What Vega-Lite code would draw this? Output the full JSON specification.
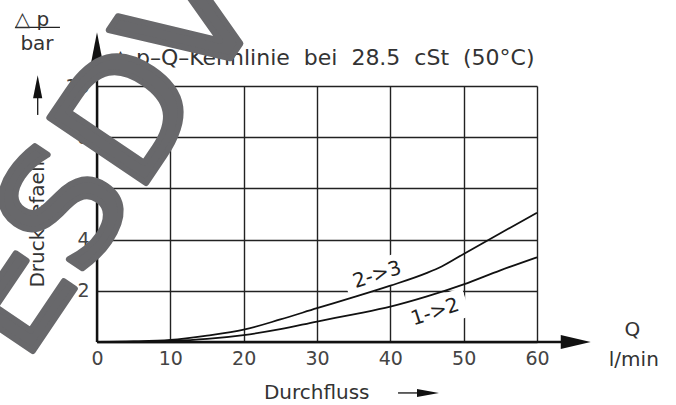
{
  "$schema": "https://vega.github.io/schema/vega-lite/v6.json",
  "width": 440,
  "height": 256,
  "autosize": {"type": "none"},
  "padding": {"left": 97, "top": 86, "right": 139, "bottom": 63},
  "background": "white",
  "config": {"view": {"stroke": null}, "font": "DejaVu Sans"},
  "datasets": {
    "boxes": [{"x": 38.2, "p": 2.62}, {"x": 46.1, "p": 1.17}],
    "curves": [
      {"series": "2->3", "x": 0, "p": 0}, {"series": "2->3", "x": 5, "p": 0.02}, {"series": "2->3", "x": 10, "p": 0.08},
      {"series": "2->3", "x": 15, "p": 0.25}, {"series": "2->3", "x": 20, "p": 0.48}, {"series": "2->3", "x": 25, "p": 0.88},
      {"series": "2->3", "x": 30, "p": 1.32}, {"series": "2->3", "x": 35, "p": 1.75}, {"series": "2->3", "x": 40, "p": 2.2},
      {"series": "2->3", "x": 45, "p": 2.7}, {"series": "2->3", "x": 47, "p": 2.95}, {"series": "2->3", "x": 50, "p": 3.44},
      {"series": "2->3", "x": 55, "p": 4.25}, {"series": "2->3", "x": 60, "p": 5.05},
      {"series": "1->2", "x": 0, "p": 0}, {"series": "1->2", "x": 5, "p": 0.01}, {"series": "1->2", "x": 10, "p": 0.04},
      {"series": "1->2", "x": 15, "p": 0.12}, {"series": "1->2", "x": 20, "p": 0.27}, {"series": "1->2", "x": 25, "p": 0.5},
      {"series": "1->2", "x": 30, "p": 0.8}, {"series": "1->2", "x": 35, "p": 1.08}, {"series": "1->2", "x": 40, "p": 1.38},
      {"series": "1->2", "x": 45, "p": 1.78}, {"series": "1->2", "x": 50, "p": 2.25}, {"series": "1->2", "x": 55, "p": 2.8},
      {"series": "1->2", "x": 60, "p": 3.31}
    ],
    "axislines": [{"x": 0, "p": 0, "x2": 65.3, "p2": 0}, {"x": 0, "p": 0, "x2": 0, "p2": 11.5}],
    "thinlines": [
      {"x": -8.09, "p": 8.87, "x2": -8.09, "p2": 9.7},
      {"x": 41.05, "p": -1.99, "x2": 44.5, "p2": -1.99},
      {"x": -11.18, "p": 12.29, "x2": -5.05, "p2": 12.29},
      {"x": 82.96, "p": -0.05, "x2": 91.23, "p2": -0.05}
    ],
    "xhead": [{"x": 65.28, "p": 0}],
    "yhead": [{"x": 0, "p": 11.49}],
    "smallhead": [{"x": -8.09, "p": 9.97}],
    "flowhead": [{"x": 45.14, "p": -1.99}],
    "texts": [
      {"x": -8.86, "p": 12.58, "label": "△ p"},
      {"x": -8.18, "p": 11.64, "label": "bar"},
      {"x": 73.02, "p": 0.47, "label": "Q"},
      {"x": 73.2, "p": -0.7, "label": "l/min"},
      {"x": 29.96, "p": -1.99, "label": "Durchfluss"}
    ],
    "title": [{"x": 2.05, "p": 11.09, "label": "△ p–Q–Kennlinie \u00a0bei \u00a028.5 \u00a0cSt \u00a0(50°C)"}],
    "ytitle": [{"x": -7.98, "p": 4.84, "label": "Druckgefaelle"}],
    "curvelabels": [{"x": 38.2, "p": 2.62, "label": "2->3"}, {"x": 46.1, "p": 1.17, "label": "1->2"}],
    "watermark": [{"x": -9.95, "p": -0.86, "label": "ESDV"}]
  },
  "encoding": {
    "x": {
      "field": "x", "type": "quantitative",
      "scale": {"domain": [0, 60], "nice": false, "zero": false},
      "axis": {
        "values": [0, 10, 20, 30, 40, 50, 60], "grid": true, "gridColor": "#222", "gridWidth": 1.4,
        "domain": false, "ticks": false, "labelFontSize": 19, "labelColor": "#444", "labelPadding": 7,
        "labelFlush": false, "labelOverlap": false, "labelBound": false, "title": null, "labelFont": "DejaVu Sans"
      }
    },
    "y": {
      "field": "p", "type": "quantitative",
      "scale": {"domain": [0, 10], "nice": false, "zero": false},
      "axis": {
        "values": [0, 2, 4, 6, 8, 10], "grid": true, "gridColor": "#222", "gridWidth": 1.4,
        "domain": false, "ticks": false, "labelFontSize": 19, "labelColor": "#444", "labelPadding": 8,
        "labelExpr": "datum.value == 0 ? '' : datum.label",
        "labelOverlap": false, "labelBound": false, "title": null, "labelFont": "DejaVu Sans"
      }
    }
  },
  "layer": [
    {
      "data": {"name": "boxes"},
      "mark": {"type": "point", "shape": "M-1,-0.45 L1,-0.45 L1,0.45 L-1,0.45 Z", "size": 4356, "angle": -18, "filled": true, "fill": "white", "opacity": 1, "strokeWidth": 0}
    },
    {
      "data": {"name": "curves"},
      "mark": {"type": "line", "stroke": "#111", "strokeWidth": 1.8, "interpolate": "monotone"},
      "encoding": {"detail": {"field": "series"}}
    },
    {
      "data": {"name": "axislines"},
      "mark": {"type": "rule", "stroke": "#111", "strokeWidth": 2.4},
      "encoding": {"x2": {"field": "x2"}, "y2": {"field": "p2"}}
    },
    {
      "data": {"name": "thinlines"},
      "mark": {"type": "rule", "stroke": "#222", "strokeWidth": 1.4},
      "encoding": {"x2": {"field": "x2"}, "y2": {"field": "p2"}}
    },
    {
      "data": {"name": "xhead"},
      "mark": {"type": "point", "shape": "M-1,-0.47 L1,0 L-1,0.47 Z", "size": 900, "filled": true, "fill": "#111", "opacity": 1, "strokeWidth": 0}
    },
    {
      "data": {"name": "yhead"},
      "mark": {"type": "point", "shape": "M-0.39,1 L0,-1 L0.39,1 Z", "size": 961, "filled": true, "fill": "#111", "opacity": 1, "strokeWidth": 0}
    },
    {
      "data": {"name": "smallhead"},
      "mark": {"type": "point", "shape": "M-0.4,1 L0,-1 L0.4,1 Z", "size": 529, "filled": true, "fill": "#111", "opacity": 1, "strokeWidth": 0}
    },
    {
      "data": {"name": "flowhead"},
      "mark": {"type": "point", "shape": "M-1,-0.36 L1,0 L-1,0.36 Z", "size": 484, "filled": true, "fill": "#111", "opacity": 1, "strokeWidth": 0}
    },
    {
      "data": {"name": "texts"},
      "mark": {"type": "text", "fontSize": 20, "fill": "#333", "align": "center", "baseline": "middle", "font": "DejaVu Sans"},
      "encoding": {"text": {"field": "label"}}
    },
    {
      "data": {"name": "title"},
      "mark": {"type": "text", "fontSize": 22, "fill": "#333", "align": "left", "baseline": "middle", "font": "DejaVu Sans"},
      "encoding": {"text": {"field": "label"}}
    },
    {
      "data": {"name": "ytitle"},
      "mark": {"type": "text", "fontSize": 20, "fill": "#333", "align": "center", "baseline": "middle", "angle": -90, "font": "DejaVu Sans"},
      "encoding": {"text": {"field": "label"}}
    },
    {
      "data": {"name": "curvelabels"},
      "mark": {"type": "text", "fontSize": 20, "fill": "#222", "align": "center", "baseline": "middle", "angle": -18, "font": "DejaVu Sans"},
      "encoding": {"text": {"field": "label"}}
    },
    {
      "data": {"name": "watermark"},
      "mark": {"type": "text", "fontSize": 160, "fontWeight": "normal", "fill": "#68686b", "stroke": "#68686b", "strokeWidth": 6, "strokeJoin": "round", "align": "left", "baseline": "alphabetic", "angle": -56, "font": "DejaVu Sans"},
      "encoding": {"text": {"field": "label"}}
    }
  ]
}
